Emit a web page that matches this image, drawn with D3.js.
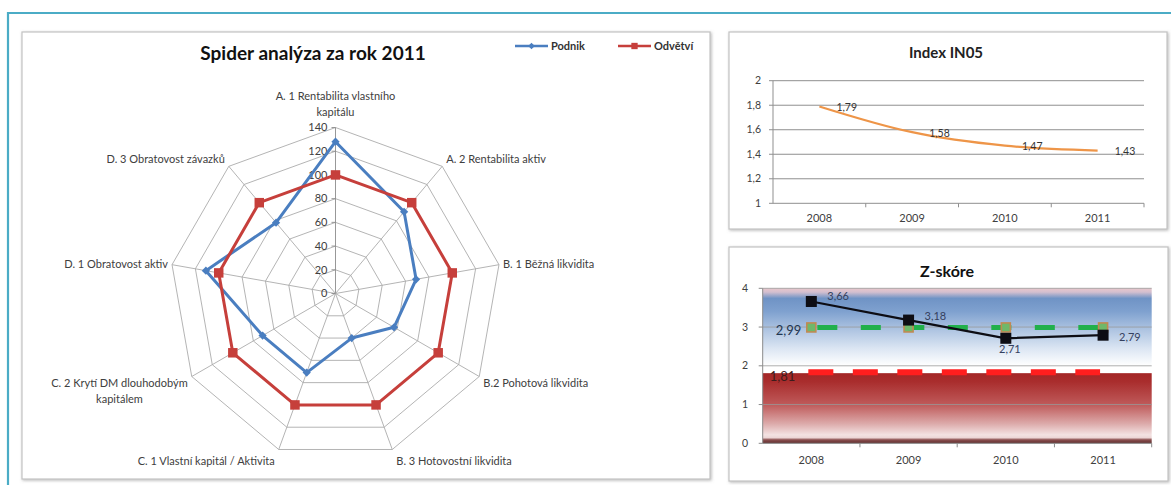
<!DOCTYPE html>
<html>
<head>
<meta charset="utf-8">
<script src="https://cdn.jsdelivr.net/npm/d3@7"></script>
<style>
  body { margin: 0; background: #fff; }
  svg { display: block; font-family: Lato, "Open Sans", sans-serif; }
</style>
</head>
<body>
<svg id="chart" width="1171" height="485"></svg>
<script>
// ---- Spider (radar) chart data ----
const radarAxes = [
  "A. 1 Rentabilita vlastního\nkapitálu",
  "A. 2 Rentabilita aktiv",
  "B. 1 Běžná likvidita",
  "B.2 Pohotová likvidita",
  "B. 3 Hotovostní likvidita",
  "C. 1 Vlastní kapitál / Aktivita",
  "C. 2 Krytí DM dlouhodobým\nkapitálem",
  "D. 1 Obratovost aktiv",
  "D. 3 Obratovost závazků"
];
const podnik  = [128, 90, 69, 57, 40, 71, 71, 111, 78];
const odvetvi = [100, 100, 100, 100, 100, 100, 100, 100, 100];
const radarTicks = [0, 20, 40, 60, 80, 100, 120, 140];
const seriesNames = ["Podnik", "Odvětví"];

// ---- Index IN05 ----
const years = ["2008", "2009", "2010", "2011"];
const in05 = [1.79, 1.58, 1.47, 1.43];
const in05Ticks = [1, 1.2, 1.4, 1.6, 1.8, 2];

// ---- Z-score ----
const zScore = [3.66, 3.18, 2.71, 2.79];
const zLabelPos = ["right", "right", "below", "right"];
const zTicks = [0, 1, 2, 3, 4];
const greyZoneLimit = [2.99, 2.99, 2.99, 2.99];
const bankruptLimit = [1.81, 1.81, 1.81, 1.81];

const cz = d3.formatLocale({ decimal: ",", thousands: " ", grouping: [3], currency: ["", " Kč"] });
const fmtTick = cz.format("~g");
const fmt2 = cz.format(".2f");

const svg = d3.select("#chart");
const defs = svg.append("defs");

// soft panel shadow
const sh = defs.append("filter").attr("id", "shadow").attr("x", "-5%").attr("y", "-5%").attr("width", "110%").attr("height", "110%");
sh.append("feDropShadow").attr("dx", 1).attr("dy", 1).attr("stdDeviation", 1.6)
  .attr("flood-color", "#7f7f7f").attr("flood-opacity", 0.55);

// outer frame
svg.append("path").attr("d", "M8,485 V13 H1171")
  .attr("fill", "none").attr("stroke", "#4bacc6").attr("stroke-width", 2.2);

function panel(x, y, w, h) {
  svg.append("rect").attr("x", x).attr("y", y).attr("width", w).attr("height", h)
    .attr("fill", "#fff").attr("stroke", "#c3c3c3").attr("stroke-width", 1.2)
    .attr("filter", "url(#shadow)");
}
panel(22, 32, 688, 447);
panel(729, 32, 438, 197);
panel(729, 247, 439, 234);

const textCol = "#404040";

// ================= Spider chart =================
{
  const g = svg.append("g");
  const cx = 335.5, cy = 293.5;
  const r = d3.scaleLinear().domain([0, 140]).range([0, 166]);
  const n = radarAxes.length;
  const ang = i => i * 2 * Math.PI / n;
  const pt = (i, v) => [cx + r(v) * Math.sin(ang(i)), cy - r(v) * Math.cos(ang(i))];

  const radial = d3.lineRadial().angle((d, i) => ang(i)).radius(d => r(d)).curve(d3.curveLinearClosed);
  const grid = g.append("g").attr("transform", `translate(${cx},${cy})`);
  radarTicks.filter(t => t > 0).forEach(t => {
    grid.append("path").attr("d", radial(new Array(n).fill(t)))
      .attr("fill", "none").attr("stroke", "#ababab").attr("stroke-width", 0.9);
  });
  radarAxes.forEach((a, i) => {
    const [x, y] = pt(i, 140);
    g.append("line").attr("x1", cx).attr("y1", cy).attr("x2", x).attr("y2", y)
      .attr("stroke", i === 0 ? "#8c8c8c" : "#ababab").attr("stroke-width", 0.9);
  });
  // value axis ticks + labels
  radarTicks.forEach(t => {
    g.append("line").attr("x1", cx - 4).attr("x2", cx).attr("y1", cy - r(t)).attr("y2", cy - r(t))
      .attr("stroke", "#8c8c8c").attr("stroke-width", 0.9);
    g.append("text").attr("x", cx - 8).attr("y", cy - r(t)).attr("dy", "0.35em")
      .attr("text-anchor", "end").attr("font-size", 11).attr("fill", textCol).text(t);
  });

  // category labels
  radarAxes.forEach((label, i) => {
    const [vx, vy] = pt(i, 140);
    const s = Math.sin(ang(i)), c = Math.cos(ang(i));
    const lines = label.split("\n");
    const t = g.append("text").attr("font-size", 11).attr("fill", textCol).attr("text-anchor", "middle");
    lines.forEach((ln, k) => t.append("tspan").attr("x", 0).attr("dy", k === 0 ? 0 : 15.5).text(ln));
    const w = d3.max(t.selectAll("tspan").nodes(), nd => nd.getComputedTextLength());
    let x, y0;
    if (Math.abs(s) < 0.05) {
      x = vx;
      y0 = vy - 17 - (lines.length - 1) * 15.5;
    } else {
      x = s > 0 ? vx + 4 + w / 2 : vx - 4 - w / 2;
      y0 = vy - c * 11;
    }
    t.attr("transform", `translate(${x},${y0})`).selectAll("tspan").attr("x", 0);
    t.attr("dominant-baseline", "central");
  });

  const lineClosed = d3.line().curve(d3.curveLinearClosed);
  const drawSeries = (vals, col, sym, size, rot) => {
    const pts = vals.map((v, i) => pt(i, v));
    g.append("path").attr("d", lineClosed(pts)).attr("fill", "none")
      .attr("stroke", col).attr("stroke-width", 3).attr("stroke-linejoin", "round");
    g.selectAll(null).data(pts).enter().append("path")
      .attr("d", d3.symbol(sym, size)())
      .attr("transform", d => `translate(${d[0]},${d[1]}) rotate(${rot})`)
      .attr("fill", col);
  };
  drawSeries(podnik, "#4a7ec0", d3.symbolSquare, 34, 45);
  drawSeries(odvetvi, "#c63f3b", d3.symbolSquare, 90, 0);

  // title
  svg.append("text").attr("x", 313).attr("y", 53).attr("dy", "0.35em").attr("text-anchor", "middle")
    .attr("font-size", 19).attr("font-weight", "bold").attr("fill", "#111").text("Spider analýza za rok 2011");

  // legend
  const leg = [
    { name: seriesNames[0], col: "#4a7ec0", x0: 515, sym: d3.symbolSquare, size: 22, rot: 45 },
    { name: seriesNames[1], col: "#c63f3b", x0: 618, sym: d3.symbolSquare, size: 40, rot: 0 }
  ];
  leg.forEach(l => {
    svg.append("line").attr("x1", l.x0).attr("x2", l.x0 + 33).attr("y1", 46).attr("y2", 46)
      .attr("stroke", l.col).attr("stroke-width", 2.6);
    svg.append("path").attr("d", d3.symbol(l.sym, l.size)())
      .attr("transform", `translate(${l.x0 + 16.5},46) rotate(${l.rot})`).attr("fill", l.col);
    svg.append("text").attr("x", l.x0 + 36).attr("y", 46).attr("dy", "0.35em")
      .attr("font-size", 11).attr("font-weight", "bold").attr("fill", "#333").text(l.name);
  });
}

// ================= Index IN05 =================
{
  const g = svg.append("g");
  const x = d3.scaleBand().domain(years).range([773, 1144]);
  const y = d3.scaleLinear().domain([1, 2]).range([203.3, 80.7]);
  const xc = d => x(d) + x.bandwidth() / 2;

  in05Ticks.forEach(t => {
    if (t > 1) g.append("line").attr("x1", 773).attr("x2", 1144).attr("y1", y(t)).attr("y2", y(t))
      .attr("stroke", "#8f8f8f").attr("stroke-width", 1);
    g.append("line").attr("x1", 769).attr("x2", 773).attr("y1", y(t)).attr("y2", y(t))
      .attr("stroke", "#8f8f8f");
    g.append("text").attr("x", 761).attr("y", y(t)).attr("dy", "0.35em").attr("text-anchor", "end")
      .attr("font-size", 10.5).attr("fill", textCol).text(fmtTick(t));
  });
  g.append("line").attr("x1", 773).attr("x2", 773).attr("y1", y(2)).attr("y2", y(1)).attr("stroke", "#8f8f8f");
  g.append("line").attr("x1", 773).attr("x2", 1144).attr("y1", y(1)).attr("y2", y(1)).attr("stroke", "#8f8f8f");
  years.forEach((yr, i) => {
    const bx = x(yr) + x.bandwidth();
    g.append("line").attr("x1", bx).attr("x2", bx).attr("y1", y(1)).attr("y2", y(1) + 4).attr("stroke", "#8f8f8f");
    g.append("text").attr("x", xc(yr)).attr("y", 218).attr("dy", "0.35em").attr("text-anchor", "middle")
      .attr("font-size", 11).attr("fill", textCol).text(yr);
  });

  const line = d3.line().x((d, i) => xc(years[i])).y(d => y(d)).curve(d3.curveCatmullRom.alpha(0.5));
  g.append("path").attr("d", line(in05)).attr("fill", "none")
    .attr("stroke", "#ee9548").attr("stroke-width", 2.2);
  in05.forEach((v, i) => {
    g.append("text").attr("x", xc(years[i]) + 17).attr("y", y(v) + 1).attr("dy", "0.35em")
      .attr("font-size", 10.5).attr("fill", "#333").text(fmt2(v));
  });

  svg.append("text").attr("x", 946).attr("y", 53).attr("dy", "0.35em").attr("text-anchor", "middle")
    .attr("font-size", 15).attr("font-weight", "bold").attr("fill", "#222").text("Index IN05");
}

// ================= Z-score =================
{
  const g = svg.append("g");
  const x = d3.scaleBand().domain(years).range([762.7, 1151.7]);
  const y = d3.scaleLinear().domain([0, 4]).range([443.3, 288.3]);
  const xc = d => x(d) + x.bandwidth() / 2;
  const L = 762.7, R = 1151.7;

  // safe zone gradient (2 – 4)
  const gb = defs.append("linearGradient").attr("id", "safeZone")
    .attr("gradientUnits", "userSpaceOnUse").attr("x1", 0).attr("x2", 0).attr("y1", y(4)).attr("y2", y(2));
  [[0, "#e9c6cb"], [0.05, "#d3bfcf"], [0.13, "#6f93c5"], [0.3, "#7fa1cf"], [0.5, "#a7bfdf"],
   [0.78, "#dce6f3"], [1, "#ffffff"]].forEach(([o, c]) => gb.append("stop").attr("offset", o).attr("stop-color", c));
  // distress zone gradient (0 – 1.81)
  const gr = defs.append("linearGradient").attr("id", "distressZone")
    .attr("gradientUnits", "userSpaceOnUse").attr("x1", 0).attr("x2", 0).attr("y1", y(bankruptLimit[0])).attr("y2", y(0));
  [[0, "#a32626"], [0.12, "#a92d2d"], [0.45, "#bf5a5a"], [0.72, "#dcaaaa"], [0.88, "#f3e2e2"],
   [0.92, "#ecd6d6"], [0.95, "#8c5050"], [1, "#5e2d2d"]].forEach(([o, c]) => gr.append("stop").attr("offset", o).attr("stop-color", c));

  g.append("rect").attr("x", L).attr("width", R - L).attr("y", y(4)).attr("height", y(2) - y(4)).attr("fill", "url(#safeZone)");
  g.append("rect").attr("x", L).attr("width", R - L).attr("y", y(bankruptLimit[0])).attr("height", y(0) - y(bankruptLimit[0]))
    .attr("fill", "url(#distressZone)");

  zTicks.forEach(t => {
    g.append("line").attr("x1", L).attr("x2", R).attr("y1", y(t)).attr("y2", y(t))
      .attr("stroke", t === 0 ? "#8a8a8a" : "#999").attr("stroke-width", 1).attr("opacity", t === 0 ? 1 : 0.8);
    g.append("line").attr("x1", L - 4).attr("x2", L).attr("y1", y(t)).attr("y2", y(t)).attr("stroke", "#8a8a8a");
    g.append("text").attr("x", 748).attr("y", y(t)).attr("dy", "0.35em").attr("text-anchor", "end")
      .attr("font-size", 10.5).attr("fill", textCol).text(fmtTick(t));
  });
  g.append("line").attr("x1", L).attr("x2", L).attr("y1", y(4)).attr("y2", y(0)).attr("stroke", "#8a8a8a");
  years.forEach(yr => {
    const bx = x(yr) + x.bandwidth();
    g.append("line").attr("x1", bx).attr("x2", bx).attr("y1", y(0)).attr("y2", y(0) + 4).attr("stroke", "#8a8a8a");
    g.append("text").attr("x", xc(yr)).attr("y", 460).attr("dy", "0.35em").attr("text-anchor", "middle")
      .attr("font-size", 11).attr("fill", textCol).text(yr);
  });

  const line = d3.line().x((d, i) => xc(years[i])).y(d => y(d));

  // bankruptcy threshold
  g.append("path").attr("d", line(bankruptLimit)).attr("fill", "none")
    .attr("stroke", "#ff1e1e").attr("stroke-width", 6).attr("stroke-dasharray", "25,19.5")
    .attr("transform", "translate(-3,-1)");
  g.append("text").attr("x", xc(years[0]) - 16).attr("y", y(bankruptLimit[0]) + 3).attr("dy", "0.35em")
    .attr("text-anchor", "end").attr("font-size", 13).attr("fill", "#3d1c1c").text(fmt2(bankruptLimit[0]));

  // grey-zone threshold
  g.append("path").attr("d", line(greyZoneLimit)).attr("fill", "none")
    .attr("stroke", "#21b04b").attr("stroke-width", 5).attr("stroke-dasharray", "20,23.5")
    .attr("transform", "translate(6,0)");
  greyZoneLimit.forEach((v, i) => {
    g.append("rect").attr("x", xc(years[i]) - 4.5).attr("y", y(v) - 4.5).attr("width", 9).attr("height", 9)
      .attr("fill", "#6fb86a").attr("stroke", "#c08a52").attr("stroke-width", 1.6);
  });
  g.append("text").attr("x", xc(years[0]) - 10).attr("y", y(greyZoneLimit[0]) + 3).attr("dy", "0.35em")
    .attr("text-anchor", "end").attr("font-size", 13).attr("fill", "#1f3652").text(fmt2(greyZoneLimit[0]));

  // Z-score series
  g.append("path").attr("d", line(zScore)).attr("fill", "none").attr("stroke", "#0d0d14").attr("stroke-width", 2.2);
  zScore.forEach((v, i) => {
    g.append("rect").attr("x", xc(years[i]) - 5.5).attr("y", y(v) - 5.5).attr("width", 11).attr("height", 11)
      .attr("fill", "#0d0d14");
    const lbl = g.append("text").attr("font-size", 11).attr("fill", "#34405e").attr("dy", "0.35em").text(fmt2(v));
    if (zLabelPos[i] === "below") {
      lbl.attr("x", xc(years[i]) + 4).attr("y", y(v) + 11).attr("text-anchor", "middle");
    } else {
      lbl.attr("x", xc(years[i]) + 16).attr("y", y(v) - (i === 0 ? 5 : i === 1 ? 3.5 : -2));
    }
  });

  svg.append("text").attr("x", 947).attr("y", 271).attr("dy", "0.35em").attr("text-anchor", "middle")
    .attr("font-size", 16).attr("font-weight", "bold").attr("fill", "#111").text("Z-skóre");
}
</script>
</body>
</html>
